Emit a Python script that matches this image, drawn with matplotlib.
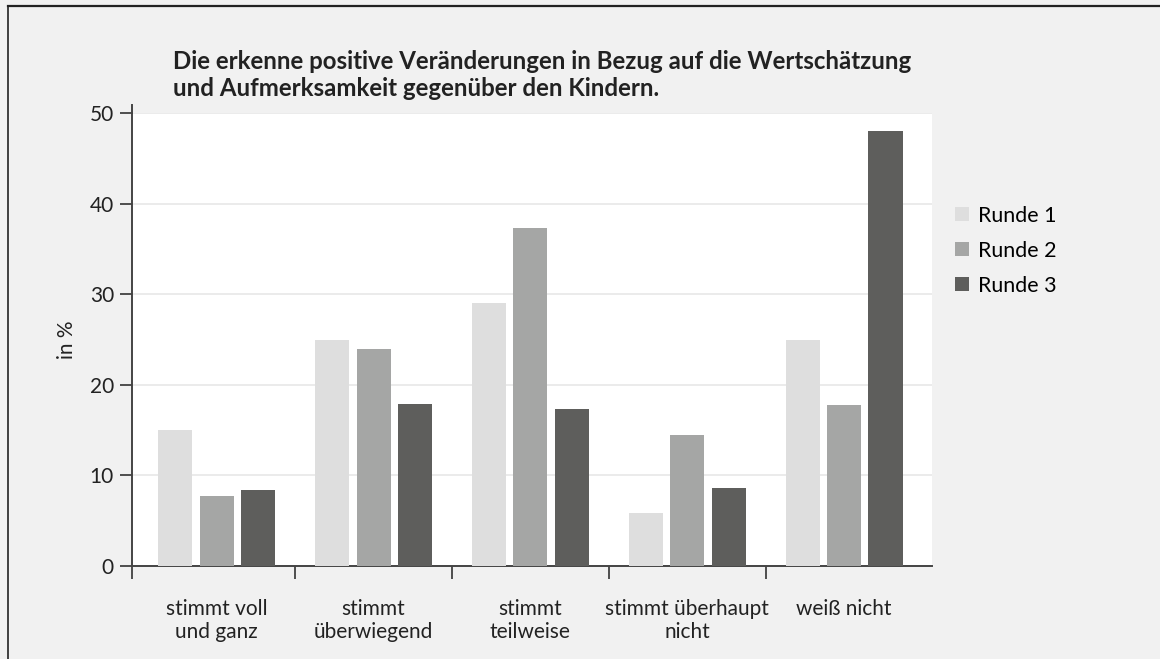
import numpy as np
import matplotlib
matplotlib.use("Agg")
import matplotlib.pyplot as plt
from matplotlib.lines import Line2D

plt.rcParams.update({
    "font.family": ["Lato", "DejaVu Sans"],
    "font.size": 15,
})

BG = "#f1f1f1"
COLORS = ["#dedede", "#a5a6a5", "#5e5e5c"]

# ── Data ──────────────────────────────────────────────────────────────────────
categories = ["stimmt voll\nund ganz", "stimmt\nüberwiegend", "stimmt\nteilweise",
              "stimmt überhaupt\nnicht", "weiß nicht"]
series = ["Runde 1", "Runde 2", "Runde 3"]
runde1 = [15.0, 25.0, 29.0, 5.9, 24.9]
runde2 = [7.7, 24.0, 37.3, 14.5, 17.8]
runde3 = [8.4, 17.9, 17.3, 8.6, 48.0]
values = [runde1, runde2, runde3]

title = ("Die erkenne positive Veränderungen in Bezug auf die Wertschätzung\n"
         "und Aufmerksamkeit gegenüber den Kindern.")

# ── Figure ────────────────────────────────────────────────────────────────────
fig = plt.figure(figsize=(11.6, 6.59), dpi=100, facecolor=BG)
ax = fig.add_axes([0.1138, 0.1411, 0.6896, 0.6874])
ax.set_facecolor("white")

x = np.arange(len(categories))
width = 0.217
step = 0.264
for i, (name, vals) in enumerate(zip(series, values)):
    ax.bar(x + (i - 1) * step, vals, width=width, color=COLORS[i], label=name, zorder=3)

ax.set_ylim(0, 50)
ax.set_xlim(-0.54, 4.56)
ax.set_yticks([0, 10, 20, 30, 40, 50])
ax.yaxis.grid(True, color="#e8e8e8", linewidth=1.2, zorder=0)

ax.set_xticks(x)
ax.set_xticklabels(categories, fontsize=15, color="#222222", linespacing=1.15)
ax.tick_params(axis="x", which="major", length=0, pad=24)
ax.set_xticks([-0.54, 0.5, 1.5, 2.5, 3.5], minor=True)
ax.tick_params(axis="x", which="minor", length=9, width=1.2, color="#333333")
ax.tick_params(axis="y", length=9, width=1.2, color="#333333", labelsize=15,
               labelcolor="#222222", pad=4)

for side in ["top", "right"]:
    ax.spines[side].set_visible(False)
for side in ["left", "bottom"]:
    ax.spines[side].set_color("#444444")
    ax.spines[side].set_linewidth(1.4)

# left spine sticks out a little above the plot area
ax.plot([0, 0], [1.0, 1.018], transform=ax.transAxes, color="#444444",
        linewidth=1.4, clip_on=False)

ax.set_ylabel("in %", fontsize=15, color="#222222", labelpad=9)

fig.text(0.149, 0.886, title, fontsize=17.3, fontweight="bold", color="#222222",
         ha="left", va="center", linespacing=1.2)

ax.legend(loc="center left", bbox_to_anchor=(1.018, 0.696), frameon=False,
          fontsize=15.4, handlelength=0.65, handleheight=0.65, handletextpad=0.45,
          labelspacing=0.7, borderaxespad=0)

# frame lines of the cropped picture (top and left)
fig.add_artist(Line2D([8 / 1160, 1], [1 - 6 / 659, 1 - 6 / 659],
                      color="#222222", linewidth=1.6, transform=fig.transFigure))
fig.add_artist(Line2D([8 / 1160, 8 / 1160], [0, 1 - 6 / 659],
                      color="#222222", linewidth=1.2, transform=fig.transFigure))

fig.savefig("out.png", dpi=100, facecolor=BG)
